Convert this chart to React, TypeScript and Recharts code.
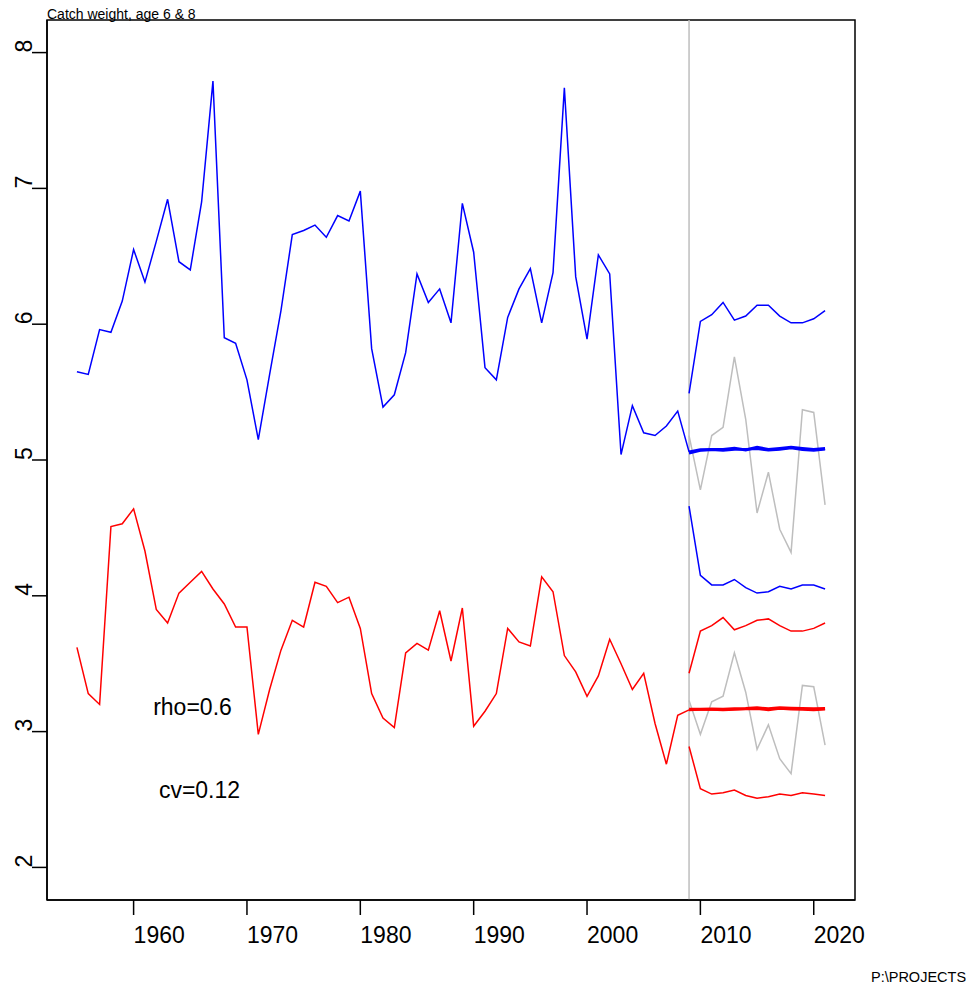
import { Line, LineChart, ReferenceArea, ReferenceLine, XAxis, YAxis } from 'recharts'

const FONT = '"Liberation Sans", Arial, sans-serif'

// historical years and series (age 6 = blue, age 8 = red)
const histYears = [
  1955, 1956, 1957, 1958, 1959, 1960, 1961, 1962, 1963, 1964,
  1965, 1966, 1967, 1968, 1969, 1970, 1971, 1972, 1973, 1974,
  1975, 1976, 1977, 1978, 1979, 1980, 1981, 1982, 1983, 1984,
  1985, 1986, 1987, 1988, 1989, 1990, 1991, 1992, 1993, 1994,
  1995, 1996, 1997, 1998, 1999, 2000, 2001, 2002, 2003, 2004,
  2005, 2006, 2007, 2008, 2009,
]
const blueHist = [
  5.65, 5.63, 5.96, 5.94, 6.17, 6.55, 6.31, 6.61, 6.92, 6.46,
  6.4, 6.9, 7.79, 5.9, 5.86, 5.59, 5.15, 5.63, 6.1, 6.66,
  6.69, 6.73, 6.64, 6.8, 6.76, 6.98, 5.82, 5.39, 5.48, 5.79,
  6.37, 6.16, 6.26, 6.01, 6.89, 6.53, 5.68, 5.59, 6.05, 6.26,
  6.41, 6.01, 6.38, 7.74, 6.35, 5.89, 6.51, 6.37, 5.04, 5.4,
  5.2, 5.18, 5.25, 5.36, 5.06,
]
const redHist = [
  3.62, 3.28, 3.2, 4.51, 4.53, 4.64, 4.33, 3.9, 3.8, 4.02,
  4.1, 4.18, 4.05, 3.94, 3.77, 3.77, 2.98, 3.31, 3.6, 3.82,
  3.77, 4.1, 4.07, 3.95, 3.99, 3.76, 3.28, 3.1, 3.03, 3.58,
  3.65, 3.6, 3.89, 3.52, 3.91, 3.04, 3.15, 3.28, 3.76, 3.66,
  3.63, 4.14, 4.03, 3.56, 3.44, 3.26, 3.41, 3.68, 3.5, 3.31,
  3.43, 3.06, 2.76, 3.12, 3.16,
]

// projection years and quantiles
const projYears = [2009, 2010, 2011, 2012, 2013, 2014, 2015, 2016, 2017, 2018, 2019, 2020, 2021]
const blueHi = [5.49, 6.02, 6.07, 6.16, 6.03, 6.06, 6.14, 6.14, 6.06, 6.01, 6.01, 6.04, 6.1]
const blueMed = [5.06, 5.076, 5.078, 5.078, 5.086, 5.074, 5.093, 5.078, 5.085, 5.093, 5.085, 5.078, 5.085]
const blueMean = [5.05, 5.07, 5.075, 5.07, 5.078, 5.08, 5.082, 5.072, 5.078, 5.088, 5.075, 5.07, 5.08]
const blueLo = [4.66, 4.15, 4.08, 4.08, 4.12, 4.06, 4.02, 4.03, 4.07, 4.05, 4.08, 4.08, 4.05]
const blueSim = [5.18, 4.78, 5.18, 5.24, 5.76, 5.3, 4.61, 4.91, 4.49, 4.32, 5.37, 5.35, 4.67]
const redHi = [3.43, 3.74, 3.78, 3.84, 3.75, 3.78, 3.82, 3.83, 3.78, 3.74, 3.74, 3.76, 3.8]
const redMed = [3.165, 3.165, 3.167, 3.165, 3.168, 3.17, 3.175, 3.168, 3.175, 3.172, 3.17, 3.168, 3.17]
const redMean = [3.16, 3.162, 3.163, 3.16, 3.162, 3.166, 3.168, 3.16, 3.17, 3.165, 3.162, 3.16, 3.165]
const redLo = [2.89, 2.58, 2.54, 2.55, 2.57, 2.53, 2.51, 2.52, 2.54, 2.53, 2.55, 2.54, 2.53]
const redSim = [3.23, 2.98, 3.22, 3.26, 3.58, 3.29, 2.87, 3.05, 2.8, 2.69, 3.34, 3.33, 2.9]

const xTicks = [1960, 1970, 1980, 1990, 2000, 2010, 2020]
const yTicks = [2, 3, 4, 5, 6, 7, 8]

const xDomain: [number, number] = [1952.36, 2023.64]
const yDomain: [number, number] = [1.76, 8.24]

type Row = Record<string, number | null>

function buildData(): Row[] {
  const byYear = new Map<number, Row>()
  const get = (yr: number) => {
    if (!byYear.has(yr)) byYear.set(yr, { year: yr })
    return byYear.get(yr)!
  }
  histYears.forEach((yr, i) => {
    const r = get(yr)
    r.blueHist = blueHist[i]
    r.redHist = redHist[i]
  })
  projYears.forEach((yr, i) => {
    const r = get(yr)
    r.blueHi = blueHi[i]
    r.blueMed = blueMed[i]
    r.blueMean = blueMean[i]
    r.blueLo = blueLo[i]
    r.blueSim = blueSim[i]
    r.redHi = redHi[i]
    r.redMed = redMed[i]
    r.redMean = redMean[i]
    r.redLo = redLo[i]
    r.redSim = redSim[i]
  })
  return [...byYear.values()].sort((a, b) => (a.year as number) - (b.year as number))
}

const data = buildData()

function XTick(props: any) {
  const { x, y, payload } = props
  return (
    <text x={x} y={y} dy={28} textAnchor="start" fontSize={23} fontFamily={FONT} fill="#000">
      {payload.value}
    </text>
  )
}

function YTick(props: any) {
  const { x, y, payload } = props
  return (
    <text
      x={x}
      y={y}
      transform={`rotate(-90, ${x}, ${y})`}
      textAnchor="start"
      fontSize={23}
      fontFamily={FONT}
      fill="#000"
    >
      {payload.value}
    </text>
  )
}

const series = [
  { key: 'blueSim', color: '#bebebe', width: 1.5 },
  { key: 'redSim', color: '#bebebe', width: 1.5 },
  { key: 'blueHist', color: '#0000ff', width: 1.5 },
  { key: 'redHist', color: '#ff0000', width: 1.5 },
  { key: 'blueHi', color: '#0000ff', width: 1.5 },
  { key: 'blueLo', color: '#0000ff', width: 1.5 },
  { key: 'redHi', color: '#ff0000', width: 1.5 },
  { key: 'redLo', color: '#ff0000', width: 1.5 },
  { key: 'blueMean', color: '#0000ff', width: 2.5 },
  { key: 'blueMed', color: '#0000ff', width: 3 },
  { key: 'redMean', color: '#ff0000', width: 2.5 },
  { key: 'redMed', color: '#ff0000', width: 3 },
]

export default function App() {
  return (
    <div style={{ position: 'absolute', left: 0, top: 0, width: 966, height: 992, background: '#fff' }}>
      <LineChart width={966} height={992} data={data} margin={{ top: 20, right: 111, bottom: 0, left: 0 }}>
        <ReferenceLine x={2009} stroke="#bebebe" strokeWidth={1.5} />
        <XAxis
          dataKey="year"
          type="number"
          domain={xDomain}
          allowDataOverflow
          ticks={xTicks}
          height={92}
          tickSize={15}
          tickMargin={0}
          tick={<XTick />}
          axisLine={{ stroke: '#000', strokeWidth: 1.5 }}
          tickLine={{ stroke: '#000', strokeWidth: 1.5 }}
        />
        <YAxis
          type="number"
          domain={yDomain}
          allowDataOverflow
          ticks={yTicks}
          width={47}
          tickSize={15}
          tickMargin={0}
          tick={<YTick />}
          axisLine={{ stroke: '#000', strokeWidth: 1.5 }}
          tickLine={{ stroke: '#000', strokeWidth: 1.5 }}
        />
        <ReferenceArea
          x1={xDomain[0]}
          x2={xDomain[1]}
          y1={yDomain[0]}
          y2={yDomain[1]}
          fill="none"
          fillOpacity={0}
          stroke="#000"
          strokeWidth={1.5}
        />
        {series.map((s) => (
          <Line
            key={s.key}
            dataKey={s.key}
            stroke={s.color}
            strokeWidth={s.width}
            dot={false}
            activeDot={false}
            isAnimationActive={false}
          />
        ))}
      </LineChart>
      <svg
        width={966}
        height={992}
        style={{ position: 'absolute', left: 0, top: 0, pointerEvents: 'none' }}
        fontFamily={FONT}
      >
        <text x={47} y={19} fontSize={14} fill="#000">Catch weight, age 6 &amp; 8</text>
        <text x={192.5} y={715} fontSize={23} textAnchor="middle" fill="#000">rho=0.6</text>
        <text x={199.5} y={798} fontSize={23} textAnchor="middle" fill="#000">cv=0.12</text>
        <text x={871} y={982} fontSize={14.5} fill="#000">P:\PROJECTS</text>
      </svg>
    </div>
  )
}
